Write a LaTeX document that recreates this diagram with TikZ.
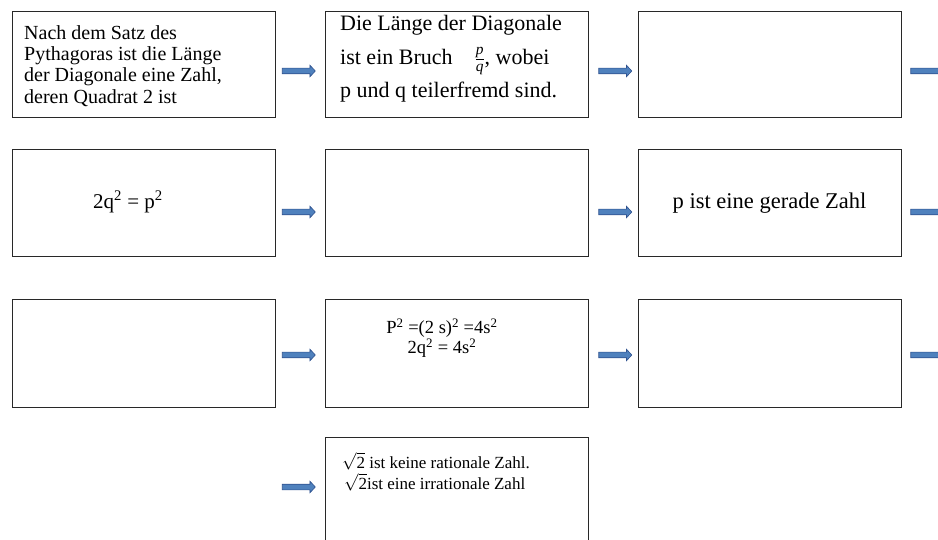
\documentclass[tikz,border=0pt]{standalone}
\usepackage{amsmath}
\usepackage{fontspec}
\setmainfont{Liberation Serif}
\usetikzlibrary{shapes.arrows}
\definecolor{arrfill}{RGB}{79,129,189}
\definecolor{arrdraw}{RGB}{47,82,143}
\definecolor{boxline}{RGB}{40,40,40}
\begin{document}
\begin{tikzpicture}[x=1pt,y=-1pt,
  box/.style={draw=boxline, line width=1pt, rectangle, minimum width=263pt, inner sep=0pt},
  blk/.style={single arrow, draw=arrdraw, fill=arrfill, line width=0.6pt,
    minimum height=33pt, minimum width=11pt, single arrow head extend=3pt,
    single arrow tip angle=95, inner xsep=0pt, inner ysep=2.5pt},
  txt/.style={inner sep=0pt}]
\useasboundingbox (0,0) rectangle (938,540);
% boxes
\node[box, minimum height=106pt] (b11) at (143.5,65) {};
\node[box, minimum height=106pt] (b12) at (456.5,65) {};
\node[box, minimum height=106pt] (b13) at (769.5,65) {};
\node[box, minimum height=107pt] (b21) at (143.5,203.5) {};
\node[box, minimum height=107pt] (b22) at (456.5,203.5) {};
\node[box, minimum height=107pt] (b23) at (769.5,203.5) {};
\node[box, minimum height=107pt] (b31) at (143.5,353.5) {};
\node[box, minimum height=107pt] (b32) at (456.5,353.5) {};
\node[box, minimum height=107pt] (b33) at (769.5,353.5) {};
\node[box, minimum height=110pt] (b42) at (456.5,492) {};
% arrows
\node[blk] (a11) at (297.5,71) {};
\node[blk] (a12) at (614,71) {};
\node[blk] (a13) at (926,71) {};
\node[blk] (a21) at (297.5,212) {};
\node[blk] (a22) at (614,212) {};
\node[blk] (a23) at (926,212) {};
\node[blk] (a31) at (297.5,355) {};
\node[blk] (a32) at (614,355) {};
\node[blk] (a33) at (926,355) {};
\node[blk] (a41) at (297.5,487) {};
% texts
\node[txt, anchor=west, align=left, font=\fontsize{20}{21.3}\selectfont] (t11) at (24,66)
  {Nach dem Satz des\\Pythagoras ist die Länge\\der Diagonale eine Zahl,\\deren Quadrat 2 ist};
\node[txt, anchor=west, align=left, font=\fontsize{22}{33.5}\selectfont] (t12) at (340,59)
  {Die Länge der Diagonale\\ist ein Bruch\quad$\frac{\text{\itshape p}}{\text{\itshape q}}$, wobei\\p und q teilerfremd sind.};
\node[txt, font=\fontsize{21}{24}\selectfont] (t21) at (128,202)
  {2q\textsuperscript{2} = p\textsuperscript{2}};
\node[txt, font=\fontsize{22.5}{25}\selectfont] (t23) at (769.5,203)
  {p ist eine gerade Zahl};
\node[txt, align=center, font=\fontsize{18.5}{17}\selectfont] (t32) at (442,338)
  {P\textsuperscript{2} =(2 s)\textsuperscript{2} =4s\textsuperscript{2}\\2q\textsuperscript{2} = 4s\textsuperscript{2}};
\node[txt, anchor=west, align=left, font=\fontsize{17}{21}\selectfont] (t42) at (342,472)
  {$\sqrt{\text{2}}$ ist keine rationale Zahl.\\\hspace*{2pt}$\sqrt{\text{2}}$ist eine irrationale Zahl};
\end{tikzpicture}
\end{document}
